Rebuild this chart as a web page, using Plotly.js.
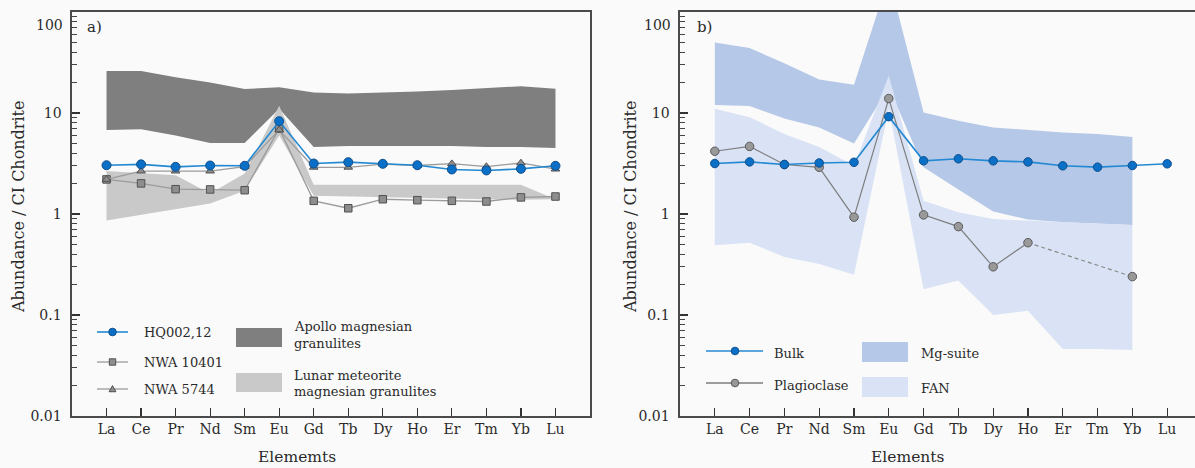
<!DOCTYPE html>
<html>
<head>
<meta charset="utf-8">
<script src="https://cdn.plot.ly/plotly-3.0.1.min.js"></script>
<style>html,body{margin:0;padding:0;background:#fafafa;}#chart{width:1195px;height:468px;}</style>
</head>
<body>
<div id="chart"></div>
<script>
// ---------- data ----------
const elements = ['La','Ce','Pr','Nd','Sm','Eu','Gd','Tb','Dy','Ho','Er','Tm','Yb','Lu'];
const yTickVals = [0.01, 0.1, 1, 10, 100];
const yTickText = ['0.01', '0.1', '1', '10', '100'];

// panel a)
const hq002 =    [3.04, 3.1, 2.93, 3.02, 3.0, 8.3, 3.16, 3.26, 3.14, 3.04, 2.76, 2.7, 2.8, 3.0];
const nwa10401 = [2.2, 2.01, 1.76, 1.75, 1.72, 7.0, 1.35, 1.14, 1.4, 1.37, 1.35, 1.33, 1.46, 1.49];
const nwa5744 =  [2.2, 2.66, 2.66, 2.66, 2.95, 6.8, 2.9, 2.9, 3.12, 3.02, 3.15, 2.95, 3.2, 2.78];
const apolloUpper = [26, 26, 22.6, 20, 17.3, 18, 16, 15.6, 16, 16.3, 16.9, 17.6, 18.4, 17.4];
const apolloLower = [6.8, 6.9, 6.0, 5.05, 5.05, 11, 4.6, 4.7, 4.7, 4.7, 4.7, 4.6, 4.6, 4.5];
const lunarUpper = [2.66, 2.55, 2.42, 1.6, 2.52, 11.8, 1.95, 1.95, 1.95, 1.95, 1.95, 1.95, 1.95, 1.4];
const lunarLower = [0.86, 0.98, 1.11, 1.27, 1.7, 6.0, 1.52, 1.48, 1.46, 1.44, 1.42, 1.4, 1.38, 1.4];

// panel b)
const bulk = [3.16, 3.28, 3.09, 3.2, 3.25, 9.2, 3.36, 3.52, 3.36, 3.28, 3.0, 2.91, 3.02, 3.14];
const plagioclase = [4.18, 4.67, 3.09, 2.9, 0.93, 13.9, 0.98, 0.75, 0.30, 0.52, null, null, 0.24, null];
const bandElements = elements.slice(0, 13); // La..Yb
const mgUpper = [50, 44, 31, 21.5, 19, 220, 10.1, 8.4, 7.2, 6.8, 6.4, 6.2, 5.8];
const mgLower = [12, 11.7, 8.8, 7.2, 5.0, 18, 2.9, 1.75, 1.06, 0.88, 0.83, 0.8, 0.78];
const fanUpper = [11, 9.1, 6.2, 4.6, 3.0, 23.4, 1.35, 1.04, 0.89, 0.86, 0.83, 0.8, 0.78];
const fanLower = [0.49, 0.52, 0.376, 0.32, 0.25, 11, 0.18, 0.22, 0.10, 0.11, 0.046, 0.046, 0.045];

// ---------- helpers ----------
const W = 1195, H = 468;
const px = x => x / W;
const py = y => 1 - y / H;
const FONT = 'DejaVu Serif, Liberation Serif, serif';
const TXT = '#2a2a2a';

function band(cats, up, lo, color, xa, ya) {
  return {
    x: cats.concat(cats.slice().reverse()),
    y: up.concat(lo.slice().reverse()),
    type: 'scatter', mode: 'lines', fill: 'toself',
    fillcolor: color, line: {width: 0, color: color},
    xaxis: xa, yaxis: ya, hoverinfo: 'skip'
  };
}

const BLUE_LINE = '#2389d2', BLUE_FILL = '#0a6fc6', BLUE_EDGE = '#114f8c';
const GRAY_LINE = '#9b9b9b', GRAY_FILL = '#8e8e8e', GRAY_EDGE = '#505050';

// dashed bridge over plagioclase gaps
const plagBridge = elements.map(() => null);
for (let i = 0; i < plagioclase.length; i++) {
  if (plagioclase[i] !== null && i + 1 < plagioclase.length && plagioclase[i + 1] === null) {
    let j = i + 1;
    while (j < plagioclase.length && plagioclase[j] === null) j++;
    if (j < plagioclase.length) { plagBridge[i] = plagioclase[i]; plagBridge[j] = plagioclase[j]; }
  }
}

const traces = [
  band(elements, apolloUpper, apolloLower, '#7f7f7f', 'x', 'y'),
  band(elements, lunarUpper, lunarLower, '#c9c9c9', 'x', 'y'),
  {x: elements, y: nwa10401, type: 'scatter', mode: 'lines+markers', xaxis: 'x', yaxis: 'y',
   line: {color: GRAY_LINE, width: 1.3},
   marker: {symbol: 'square', size: 7.5, color: GRAY_FILL, line: {color: GRAY_EDGE, width: 1}}},
  {x: elements, y: nwa5744, type: 'scatter', mode: 'lines+markers', xaxis: 'x', yaxis: 'y',
   line: {color: GRAY_LINE, width: 1.3},
   marker: {symbol: 'triangle-up', size: 7.5, color: GRAY_FILL, line: {color: GRAY_EDGE, width: 1}}},
  {x: elements, y: hq002, type: 'scatter', mode: 'lines+markers', xaxis: 'x', yaxis: 'y',
   line: {color: BLUE_LINE, width: 1.6},
   marker: {symbol: 'circle', size: 9, color: BLUE_FILL, line: {color: BLUE_EDGE, width: 1}}},

  band(bandElements, mgUpper, mgLower, '#b5c8e8', 'x2', 'y2'),
  band(bandElements, fanUpper, fanLower, '#d9e3f5', 'x2', 'y2'),
  {x: elements, y: plagBridge, type: 'scatter', mode: 'lines', connectgaps: true, xaxis: 'x2', yaxis: 'y2',
   line: {color: '#8a8a8a', width: 1.2, dash: '4px,3px'}},
  {x: elements, y: plagioclase, type: 'scatter', mode: 'lines+markers', xaxis: 'x2', yaxis: 'y2',
   connectgaps: false,
   line: {color: '#7d7d7d', width: 1.2},
   marker: {symbol: 'circle', size: 8.5, color: '#999999', line: {color: '#5a5a5a', width: 1}}},
  {x: elements, y: bulk, type: 'scatter', mode: 'lines+markers', xaxis: 'x2', yaxis: 'y2',
   line: {color: BLUE_LINE, width: 1.6},
   marker: {symbol: 'circle', size: 8.5, color: BLUE_FILL, line: {color: BLUE_EDGE, width: 1}}}
];

// ---------- axes ----------
const minorVals = [];
for (let d = -2; d < 2; d++) for (let k = 2; k <= 9; k++) minorVals.push(k * Math.pow(10, d));

function xAxis(domain, range, anchor) {
  return {
    domain: domain, range: range, anchor: anchor, type: 'category',
    categoryorder: 'array', categoryarray: elements,
    ticks: 'inside', ticklen: 8, tickwidth: 1.2, tickcolor: '#333',
    showline: true, linecolor: '#4a4a4a', linewidth: 1.6, mirror: true,
    showgrid: false, zeroline: false,
    tickfont: {family: FONT, size: 14, color: TXT}, ticklabelstandoff: 0
  };
}
function yAxis(anchor, mirror) {
  // the top label ("100") is drawn separately, lowered like in the reference
  return {
    domain: [py(416), py(12)], anchor: anchor, type: 'log', range: [-2, 2],
    tickvals: yTickVals, ticktext: yTickText.map((t, i) => i === yTickText.length - 1 ? '' : t),
    ticks: 'inside', ticklen: 8, tickwidth: 1.2, tickcolor: '#333',
    minor: {tickvals: minorVals, ticks: 'inside', ticklen: 5, tickwidth: 1, tickcolor: '#444'},
    showline: true, linecolor: '#4a4a4a', linewidth: 1.6, mirror: mirror,
    showgrid: false, zeroline: false,
    tickfont: {family: FONT, size: 14, color: TXT}, ticklabelstandoff: 6
  };
}

// ---------- legend (drawn) ----------
const shapes = [];
const ann = [];
function txt(text, x, y, size, opts) {
  ann.push(Object.assign({text: text, x: px(x), y: py(y), xref: 'paper', yref: 'paper',
    showarrow: false, xanchor: 'left', yanchor: 'middle',
    font: {family: FONT, size: size, color: TXT}}, opts || {}));
}
function lineSample(x0, x1, y, color, w) {
  shapes.push({type: 'line', xref: 'paper', yref: 'paper', x0: px(x0), x1: px(x1), y0: py(y), y1: py(y),
    line: {color: color, width: w}});
}
function circleSample(cx, cy, r, fill, edge) {
  shapes.push({type: 'circle', xref: 'paper', yref: 'paper', x0: px(cx - r), x1: px(cx + r),
    y0: py(cy + r), y1: py(cy - r), fillcolor: fill, line: {color: edge, width: 1}});
}
function squareSample(cx, cy, r, fill, edge) {
  shapes.push({type: 'rect', xref: 'paper', yref: 'paper', x0: px(cx - r), x1: px(cx + r),
    y0: py(cy + r), y1: py(cy - r), fillcolor: fill, line: {color: edge, width: 1}});
}
function triSample(cx, cy, r, fill, edge) {
  const p = 'M' + px(cx - r) + ',' + py(cy + r * 0.8) + ' L' + px(cx + r) + ',' + py(cy + r * 0.8) +
    ' L' + px(cx) + ',' + py(cy - r) + ' Z';
  shapes.push({type: 'path', xref: 'paper', yref: 'paper', path: p, fillcolor: fill, line: {color: edge, width: 1}});
}
function rectSample(x0, y0, x1, y1, fill) {
  shapes.push({type: 'rect', xref: 'paper', yref: 'paper', x0: px(x0), x1: px(x1), y0: py(y1), y1: py(y0),
    fillcolor: fill, line: {width: 0}});
}

const LEG = 13;
// panel a legend
lineSample(97, 128, 332, BLUE_LINE, 1.6); circleSample(112.5, 332, 3.8, BLUE_FILL, BLUE_EDGE);
lineSample(97, 128, 362, GRAY_LINE, 1.3); squareSample(112.5, 362, 3.2, GRAY_FILL, GRAY_EDGE);
lineSample(97, 128, 389, GRAY_LINE, 1.3); triSample(112.5, 389, 3.4, GRAY_FILL, GRAY_EDGE);
txt('HQ002,12', 142, 332, LEG);
txt('NWA 10401', 142, 362, LEG);
txt('NWA 5744', 142, 389, LEG);
rectSample(236, 328, 282, 347, '#7f7f7f');
rectSample(236, 373, 282, 392, '#c9c9c9');
txt('Apollo magnesian', 292, 326, LEG);
txt('granulites', 292, 343, LEG);
txt('Lunar meteorite', 292, 375, LEG);
txt('magnesian granulites', 292, 391, LEG);

// panel b legend
lineSample(706, 763, 351, BLUE_LINE, 1.6); circleSample(735, 351, 3.8, BLUE_FILL, BLUE_EDGE);
lineSample(706, 763, 383, '#7d7d7d', 1.3); circleSample(735, 383, 3.8, '#999999', '#5a5a5a');
txt('Bulk', 772, 353, LEG);
txt('Plagioclase', 772, 385, LEG);
rectSample(862, 342, 908, 362, '#b5c8e8');
rectSample(862, 377, 908, 397, '#d9e3f5');
txt('Mg-suite', 919, 353, LEG);
txt('FAN', 919, 388, LEG);

// titles, panel labels, top tick labels
txt('a)', 85, 27, 15);
txt('b)', 695, 27, 15);
txt(yTickText[yTickText.length - 1], 65, 25, 14, {xanchor: 'right'});
txt(yTickText[yTickText.length - 1], 673, 25, 14, {xanchor: 'right'});
txt('Abundance / CI Chondrite', 18, 207, 16, {xanchor: 'center', textangle: -90});
txt('Abundance / CI Chondrite', 630, 207, 16, {xanchor: 'center', textangle: -90});
txt('Elememts', 297, 457, 15.5, {xanchor: 'center'});
txt('Elements', 908, 457, 15.5, {xanchor: 'center'});

const layout = {
  width: W, height: H,
  margin: {l: 0, r: 0, t: 0, b: 0},
  paper_bgcolor: '#fafafa', plot_bgcolor: '#fafafa',
  showlegend: false,
  font: {family: FONT, color: TXT},
  xaxis: xAxis([px(72), px(590)], [-1, 14], 'y'),
  yaxis: yAxis('x', true),
  xaxis2: xAxis([px(680), 1], [-1, 13.8], 'y2'),
  yaxis2: yAxis('x2', false),
  shapes: shapes,
  annotations: ann
};

Plotly.newPlot('chart', traces, layout, {displayModeBar: false, staticPlot: true});
</script>
</body>
</html>
